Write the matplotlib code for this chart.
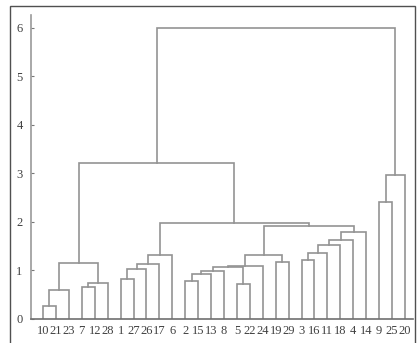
import matplotlib
matplotlib.use('Agg')
import matplotlib.pyplot as plt
from matplotlib.patches import Rectangle

# Leaf labels in dendrogram order (left to right)
leaf_labels = ['10', '21', '23', '7', '12', '28', '1', '27', '26', '17', '6',
               '2', '15', '13', '8', '5', '22', '24', '19', '29', '3', '16',
               '11', '18', '4', '14', '9', '25', '20']

# Merges: child ids (leaf index 0..28, new clusters from 29 upward) and heights
merge_left = [0, 29, 3, 31, 30, 6, 34, 35, 36, 11, 38, 39, 15, 40, 42, 18,
              43, 20, 46, 47, 48, 49, 45, 37, 33, 26, 54, 53]
merge_right = [1, 2, 4, 5, 32, 7, 8, 9, 10, 12, 13, 14, 16, 41, 17, 19,
               44, 21, 22, 23, 24, 25, 50, 51, 52, 27, 28, 55]
merge_height = [0.26, 0.59, 0.64, 0.74, 1.15, 0.81, 1.02, 1.12, 1.32, 0.77,
                0.92, 0.97, 0.71, 1.07, 1.09, 1.16, 1.30, 1.21, 1.35, 1.51,
                1.61, 1.79, 1.90, 1.98, 3.20, 2.41, 2.97, 6.00]

line_color = '#939393'
text_color = '#404040'

fig = plt.figure(figsize=(4.17, 3.43), dpi=100)
ax = fig.add_axes([31 / 417, 24.5 / 343, 382 / 417, 303.5 / 343])

# x position and height of each node
n = len(leaf_labels)
xpos = [5 + 10 * i for i in range(n)]
ypos = [0.0] * n
for a, b, h in zip(merge_left, merge_right, merge_height):
    xa, xb = xpos[a], xpos[b]
    ax.plot([xa, xa, xb, xb], [ypos[a], h, h, ypos[b]],
            color=line_color, lw=1.2, solid_joinstyle='miter')
    xpos.append((xa + xb) / 2)
    ypos.append(h)

ax.set_xlim(-4.3, 291.2)
ax.set_ylim(0, 6.26)
ax.set_xticks([5 + 10 * i for i in range(n)])
ax.set_xticklabels(leaf_labels)
ax.set_yticks(range(7))

for s in ['top', 'right']:
    ax.spines[s].set_visible(False)
ax.spines['left'].set_color('#9a9a9a')
ax.spines['bottom'].set_color('#707070')
ax.spines['left'].set_linewidth(1.2)
ax.spines['bottom'].set_linewidth(1.2)

ax.tick_params(axis='y', direction='in', length=2.5, color='#777777',
               labelsize=9, labelcolor=text_color, pad=6)
ax.tick_params(axis='x', length=0, labelsize=9, labelcolor=text_color, pad=5)
for lab in ax.get_xticklabels() + ax.get_yticklabels():
    lab.set_family('Liberation Serif')

# outer frame around the picture
fig.patches.append(Rectangle((10 / 417, -0.01), 405 / 417, 1 - 6 / 343 + 0.01,
                             transform=fig.transFigure, fill=False,
                             edgecolor='#505050', lw=1.0))

fig.savefig('out.png', dpi=100)
